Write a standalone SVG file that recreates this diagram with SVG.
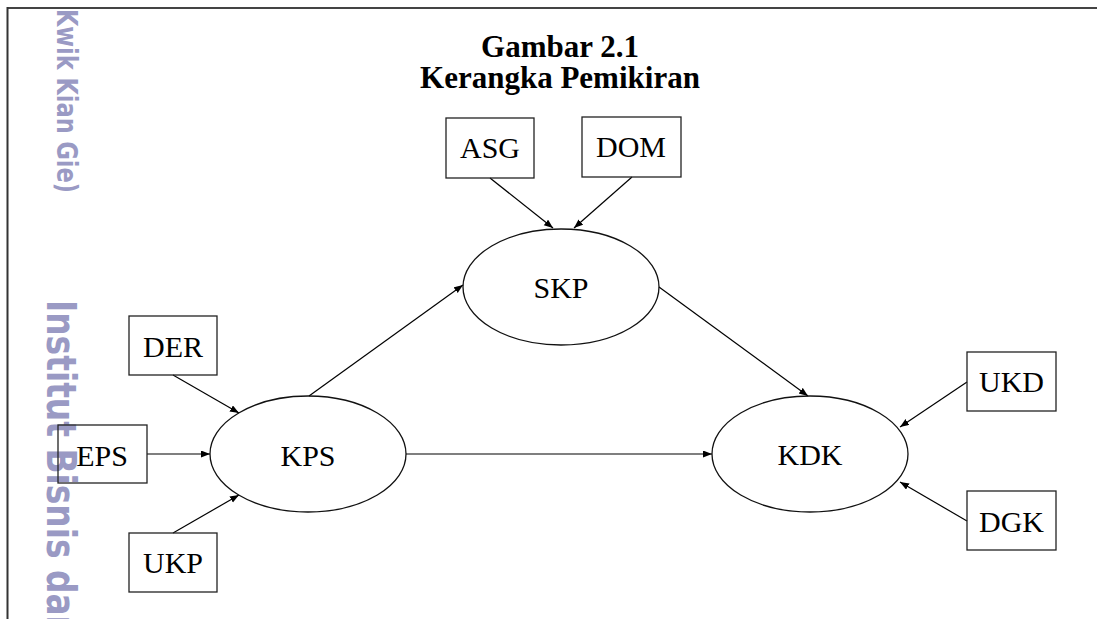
<svg xmlns="http://www.w3.org/2000/svg" width="1097" height="619" viewBox="0 0 1097 619">
<style>
.wm{font-family:"DejaVu Sans","Liberation Sans",sans-serif;font-weight:bold;fill:#9a9ac4}
.title{font-family:"Liberation Serif","Times New Roman",serif;font-weight:bold;font-size:31px;fill:#000;text-anchor:middle}
.lbl{font-family:"Liberation Serif","Times New Roman",serif;font-size:30px;fill:#000;text-anchor:middle}
.box{fill:none;stroke:#222;stroke-width:1.3}
.ell{fill:none;stroke:#111;stroke-width:1.3}
.con line{stroke:#000;stroke-width:1.2;marker-end:url(#ah)}
</style>
<defs>
<marker id="ah" markerUnits="userSpaceOnUse" markerWidth="10" markerHeight="8" refX="9" refY="3.5" orient="auto">
<path d="M0,0 L9,3.5 L0,7 z" fill="#000"/>
</marker>
</defs>
<rect width="1097" height="619" fill="#fff"/>
<!-- page frame -->
<line x1="7" y1="8" x2="1097" y2="8" stroke="#444" stroke-width="2"/>
<line x1="7.5" y1="7" x2="7.5" y2="619" stroke="#333" stroke-width="2"/>
<!-- watermark -->
<text class="wm" font-size="29" textLength="184" lengthAdjust="spacingAndGlyphs" transform="translate(57,9) rotate(90)">Kwik Kian Gie)</text>
<text class="wm" font-size="41" textLength="339" lengthAdjust="spacingAndGlyphs" transform="translate(47,300) rotate(90)">Institut Bisnis dan</text>
<!-- title -->
<g id="title">
<text class="title" x="560" y="57">Gambar 2.1</text>
<text class="title" x="560" y="88">Kerangka Pemikiran</text>
</g>
<!-- connectors -->
<g id="connectors" class="con">
<line x1="490" y1="178" x2="553" y2="228"/>
<line x1="632" y1="177" x2="574" y2="228"/>
<line x1="309" y1="396" x2="463" y2="285"/>
<line x1="659" y1="287" x2="808" y2="396"/>
<line x1="406" y1="454" x2="712" y2="454"/>
<line x1="173" y1="375" x2="239" y2="413"/>
<line x1="147" y1="454" x2="210" y2="454"/>
<line x1="173" y1="533" x2="239" y2="495"/>
<line x1="967" y1="382" x2="900" y2="427"/>
<line x1="967" y1="521" x2="900" y2="482"/>
</g>
<!-- nodes -->
<g id="ASG"><rect class="box" x="446" y="118" width="88" height="60"/><text class="lbl" x="490" y="158">ASG</text></g>
<g id="DOM"><rect class="box" x="582" y="117" width="99" height="60"/><text class="lbl" x="631" y="157">DOM</text></g>
<g id="SKP"><ellipse class="ell" cx="561" cy="287" rx="98" ry="58"/><text class="lbl" x="561" y="298">SKP</text></g>
<g id="DER"><rect class="box" x="129" y="316" width="88" height="59"/><text class="lbl" x="173" y="357">DER</text></g>
<g id="EPS"><rect class="box" x="58" y="425" width="89" height="58"/><text class="lbl" x="102" y="466">EPS</text></g>
<g id="UKP"><rect class="box" x="129" y="533" width="88" height="59"/><text class="lbl" x="173" y="573">UKP</text></g>
<g id="KPS"><ellipse class="ell" cx="308" cy="454" rx="98" ry="58"/><text class="lbl" x="308" y="466">KPS</text></g>
<g id="KDK"><ellipse class="ell" cx="810" cy="454" rx="98" ry="58"/><text class="lbl" x="810" y="465">KDK</text></g>
<g id="UKD"><rect class="box" x="967" y="352" width="89" height="59"/><text class="lbl" x="1011.5" y="392">UKD</text></g>
<g id="DGK"><rect class="box" x="967" y="491" width="89" height="59"/><text class="lbl" x="1011.5" y="532">DGK</text></g>
</svg>
